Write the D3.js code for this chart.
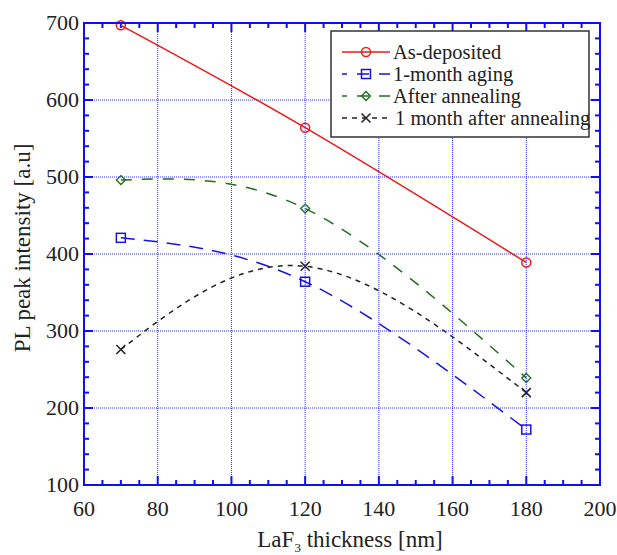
<!DOCTYPE html>
<html>
<head>
<meta charset="utf-8">
<script src="https://cdn.jsdelivr.net/npm/d3@7"></script>
<style>
  body { margin: 0; background: #fff; }
  text { font-family: "Liberation Serif", "DejaVu Serif", serif; fill: #222; }
  .grid line { stroke: #2a2aff; stroke-width: 1; stroke-dasharray: 1,1; }
  .frame { fill: none; stroke: #1010ee; stroke-width: 2; }
  .tick-mark { stroke: #1010ee; stroke-width: 2; }
</style>
</head>
<body>
<script>
"use strict";

// thickness values (nm)
var thickness = [70, 120, 180];

// PL peak intensity for each series
var asDeposited = [697, 564, 389];
var monthAging = [421, 364, 172];
var afterAnnealing = [496, 459, 239];
var monthAfterAnnealing = [276, 384, 220];

var seriesNames = ["As-deposited", "1-month aging", "After annealing", "1 month after annealing"];

var xTicks = [60, 80, 100, 120, 140, 160, 180, 200];
var yTicks = [100, 200, 300, 400, 500, 600, 700];

var width = 617, height = 555;
var margin = { left: 84, right: 17, top: 23, bottom: 70 };

var svg = d3.select('body').append('svg')
  .attr('width', width)
  .attr('height', height);

var xScale = d3.scaleLinear()
  .domain([60, 200])
  .range([margin.left, width - margin.right]);

var yScale = d3.scaleLinear()
  .domain([100, 700])
  .range([height - margin.bottom, margin.top]);

var x0 = xScale.range()[0], x1 = xScale.range()[1];
var y0 = yScale.range()[0], y1 = yScale.range()[1];

// dotted grid
var grid = svg.append('g').attr('class', 'grid');
grid.selectAll('.vx')
  .data(xTicks.slice(1, -1))
  .enter().append('line')
  .attr('x1', function (d) { return xScale(d); })
  .attr('x2', function (d) { return xScale(d); })
  .attr('y1', y0).attr('y2', y1);
grid.selectAll('.hy')
  .data(yTicks.slice(1, -1))
  .enter().append('line')
  .attr('x1', x0).attr('x2', x1)
  .attr('y1', function (d) { return yScale(d); })
  .attr('y2', function (d) { return yScale(d); });

// tick marks on all four sides, pointing inward
var xMinor = d3.range(60, 201, 5);
var yMinor = d3.range(100, 701, 20);
var ticks = svg.append('g');
xMinor.forEach(function (v) {
  var len = (v % 20 === 0) ? 9 : 5;
  var px = xScale(v);
  ticks.append('line').attr('class', 'tick-mark')
    .attr('x1', px).attr('x2', px).attr('y1', y0).attr('y2', y0 - len);
  ticks.append('line').attr('class', 'tick-mark')
    .attr('x1', px).attr('x2', px).attr('y1', y1).attr('y2', y1 + len);
});
yMinor.forEach(function (v) {
  var len = (v % 100 === 0) ? 9 : 5;
  var py = yScale(v);
  ticks.append('line').attr('class', 'tick-mark')
    .attr('x1', x0).attr('x2', x0 + len).attr('y1', py).attr('y2', py);
  ticks.append('line').attr('class', 'tick-mark')
    .attr('x1', x1).attr('x2', x1 - len).attr('y1', py).attr('y2', py);
});

// tick labels
svg.append('g').selectAll('text')
  .data(xTicks)
  .enter().append('text')
  .attr('x', function (d) { return xScale(d); })
  .attr('y', y0 + 31)
  .attr('text-anchor', 'middle')
  .style('font-size', '22px')
  .text(function (d) { return d; });

svg.append('g').selectAll('text')
  .data(yTicks)
  .enter().append('text')
  .attr('x', x0 - 5)
  .attr('y', function (d) { return yScale(d) + 7; })
  .attr('text-anchor', 'end')
  .style('font-size', '22px')
  .text(function (d) { return d; });

// axis titles
var xTitle = svg.append('text')
  .attr('x', 350)
  .attr('y', 547)
  .attr('text-anchor', 'middle')
  .style('font-size', '23px');
xTitle.append('tspan').text('LaF');
xTitle.append('tspan').attr('dy', 5).style('font-size', '13px').text('3');
xTitle.append('tspan').attr('dy', -5).text(' thickness [nm]');

svg.append('text')
  .attr('transform', 'translate(30,248) rotate(-90)')
  .attr('text-anchor', 'middle')
  .style('font-size', '23px')
  .text('PL peak intensity [a.u]');

var series = [
  { name: seriesNames[0], values: asDeposited, color: '#f01818', dash: null, marker: 'circle' },
  { name: seriesNames[1], values: monthAging, color: '#1515e0', dash: '14,9', marker: 'square' },
  { name: seriesNames[2], values: afterAnnealing, color: '#1e6e1e', dash: '11,10', marker: 'diamond' },
  { name: seriesNames[3], values: monthAfterAnnealing, color: '#222', dash: '5,5', marker: 'cross' }
];

var line = d3.line()
  .x(function (d) { return xScale(d[0]); })
  .y(function (d) { return yScale(d[1]); })
  .curve(d3.curveNatural);

function drawMarker(g, type, cx, cy, color) {
  if (type === 'circle') {
    g.append('circle').attr('cx', cx).attr('cy', cy).attr('r', 4.5)
      .attr('fill', 'none').attr('stroke', color).attr('stroke-width', 1.5);
  } else if (type === 'square') {
    g.append('rect').attr('x', cx - 4.5).attr('y', cy - 4.5).attr('width', 9).attr('height', 9)
      .attr('fill', 'none').attr('stroke', color).attr('stroke-width', 1.5);
  } else if (type === 'diamond') {
    g.append('path').attr('d', 'M' + cx + ',' + (cy - 4.5) + 'L' + (cx + 4.5) + ',' + cy +
        'L' + cx + ',' + (cy + 4.5) + 'L' + (cx - 4.5) + ',' + cy + 'Z')
      .attr('fill', 'none').attr('stroke', color).attr('stroke-width', 1.3);
  } else {
    g.append('path').attr('d', 'M' + (cx - 4.5) + ',' + (cy - 4.5) + 'L' + (cx + 4.5) + ',' + (cy + 4.5) +
        'M' + (cx + 4.5) + ',' + (cy - 4.5) + 'L' + (cx - 4.5) + ',' + (cy + 4.5))
      .attr('stroke', color).attr('stroke-width', 1.5);
  }
}

var plot = svg.append('g');
series.forEach(function (s) {
  var pts = thickness.map(function (t, i) { return [t, s.values[i]]; });
  plot.append('path')
    .attr('d', line(pts))
    .attr('fill', 'none')
    .attr('stroke', s.color)
    .attr('stroke-width', 1.5)
    .attr('stroke-dasharray', s.dash);
  pts.forEach(function (p) {
    drawMarker(plot, s.marker, xScale(p[0]), yScale(p[1]), s.color);
  });
});

// frame
svg.append('rect').attr('class', 'frame')
  .attr('x', x0).attr('y', y1)
  .attr('width', x1 - x0).attr('height', y0 - y1);

// legend
var legend = svg.append('g').attr('transform', 'translate(331,31)');
legend.append('rect')
  .attr('width', 258).attr('height', 106)
  .attr('fill', '#fff').attr('stroke', '#333').attr('stroke-width', 1.5);

series.forEach(function (s, i) {
  var ly = 21 + i * 22;
  var row = legend.append('g');
  row.append('line')
    .attr('x1', 11).attr('x2', 59).attr('y1', ly).attr('y2', ly)
    .attr('stroke', s.color).attr('stroke-width', 1.5)
    .attr('stroke-dasharray', s.dash ? (i === 3 ? '5,5' : '12,10') : null)
    .attr('stroke-dashoffset', s.dash ? (i === 3 ? 0 : 7) : 0);
  drawMarker(row, s.marker, 35, ly, s.color);
  row.append('text')
    .attr('x', i === 3 ? 64 : 62)
    .attr('y', ly + 7)
    .style('font-size', '20.5px')
    .text(s.name);
});
</script>
</body>
</html>
